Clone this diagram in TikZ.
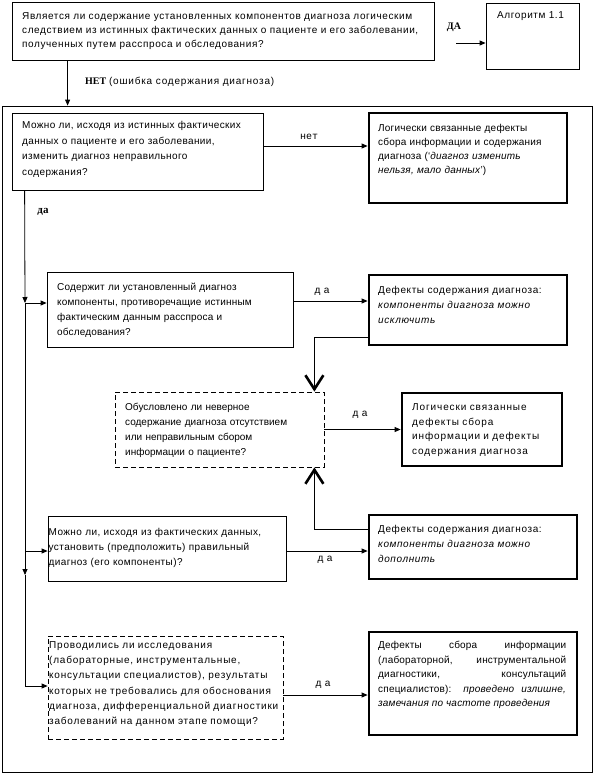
\documentclass[tikz,border=0pt]{standalone}
\usepackage{fontspec}
\setmainfont{Liberation Sans}
\newfontfamily\serifb{Liberation Serif}
\newfontfamily\monof{Liberation Mono}
\newcommand{\lsp}[1]{\addfontfeature{LetterSpace=#1}}
\usetikzlibrary{arrows.meta,calc}
\begin{document}
\begin{tikzpicture}[x=1pt,y=-1pt,
  box/.style={draw, line width=0.8pt, rectangle, inner sep=0pt},
  thickbox/.style={draw, line width=2.8pt, rectangle, inner sep=0pt},
  dbox/.style={draw, line width=0.8pt, rectangle, inner sep=0pt, dash pattern=on 5pt off 3pt},
  txt/.style={anchor=base west, inner sep=0pt, align=left, text width=330pt},
  lbl/.style={inner sep=0pt, font=\fontsize{10}{12}\selectfont},
  arr/.style={line width=0.8pt, -{Triangle[length=6pt,width=5pt]}},
  ln/.style={line width=0.8pt},
  vtip/.style={line width=0.8pt, -{Straight Barb[length=14pt,width=18pt,line width=2.6pt]}},
]
\useasboundingbox (0,0) rectangle (598,784);
% boxes
\node[box, minimum width=422pt, minimum height=58pt] (b1) at (223,31) {};
\node[box, minimum width=93pt, minimum height=66pt] (b2) at (532.5,36) {};
\node[box, minimum width=590pt, minimum height=666pt] (frame) at (297,439) {};
\node[box, minimum width=251pt, minimum height=77pt] (b3) at (137.5,151.5) {};
\node[thickbox, minimum width=198pt, minimum height=90pt] (b4) at (468,158) {};
\node[box, minimum width=246pt, minimum height=75pt] (b5) at (170,309.5) {};
\node[thickbox, minimum width=198pt, minimum height=70pt] (b6) at (468,310) {};
\node[dbox, minimum width=209pt, minimum height=75pt] (b7) at (219.5,429.5) {};
\node[thickbox, minimum width=160pt, minimum height=73pt] (b8) at (482,429.5) {};
\node[box, minimum width=238pt, minimum height=65pt] (b9) at (167,548.5) {};
\node[thickbox, minimum width=208pt, minimum height=64pt] (b10) at (473,547) {};
\node[dbox, minimum width=235pt, minimum height=103pt] (b11) at (165.5,687.5) {};
\node[thickbox, minimum width=208pt, minimum height=103pt] (b12) at (473,683.5) {};
% texts
\node[txt, text width=560pt, font=\fontsize{10}{14.3}\selectfont\lsp{6}] (t1) at (22,19.2) {Является ли содержание установленных компонентов диагноза логическим\\следствием из истинных фактических данных о пациенте и его заболевании,\\полученных путем расспроса и обследования?};
\node[txt, font=\fontsize{10}{14}\selectfont\lsp{6}] (t2) at (497,18.5) {Алгоритм 1.1};
\node[txt, font=\fontsize{10}{15.5}\selectfont\lsp{3.7}] (t3) at (22,128.5) {Можно ли, исходя из истинных фактических\\данных о пациенте и его заболевании,\\изменить диагноз неправильного\\содержания?};
\node[txt, font=\fontsize{10}{14.3}\selectfont\lsp{2}] (t4) at (378,131) {Логически связанные дефекты\\сбора информации и содержания\\диагноза (‘\textit{диагноз изменить}\\\textit{нельзя, мало данных}’)};
\node[txt, font=\fontsize{10}{15}\selectfont\lsp{1.6}] (t5) at (57,290.5) {Содержит ли установленный диагноз\\компоненты, противоречащие истинным\\фактическим данным расспроса и\\обследования?};
\node[txt, font=\fontsize{10}{15}\selectfont\lsp{6}] (t6) at (378,293.5) {Дефекты содержания диагноза:\\\textit{компоненты диагноза можно}\\\textit{исключить}};
\node[txt, font=\fontsize{10}{15}\selectfont] (t7) at (125,410.5) {Обусловлено ли неверное\\содержание диагноза отсутствием\\или неправильным сбором\\информации о пациенте?};
\node[txt, font=\fontsize{10}{14.5}\selectfont\lsp{9}] (t8) at (412,410.5) {Логически связанные\\дефекты сбора\\информации и дефекты\\содержания диагноза};
\node[txt, font=\fontsize{10}{15}\selectfont\lsp{4}] (t9) at (48.5,535.5) {Можно ли, исходя из фактических данных,\\установить (предположить) правильный\\диагноз (его компоненты)?};
\node[txt, font=\fontsize{10}{15}\selectfont\lsp{6}] (t10) at (378,532.5) {Дефекты содержания диагноза:\\\textit{компоненты диагноза можно}\\\textit{дополнить}};
\node[txt, font=\fontsize{10}{15.2}\selectfont\lsp{8}] (t11) at (49,648.5) {Проводились ли исследования\\(лабораторные, инструментальные,\\консультации специалистов), результаты\\которых не требовались для обоснования\\диагноза, дифференциальной диагностики\\заболеваний на данном этапе помощи?};
\node[txt, align=justify, text width=188pt, font=\fontsize{10}{14.6}\selectfont\lsp{2}] (t12) at (378,648.5) {Дефекты сбора информации\linebreak (лабораторной, инструментальной\linebreak диагностики, консультаций\linebreak специалистов): \textit{проведено излишне,}\linebreak \textit{замечания по частоте проведения}};
% labels
\node[lbl] (lDA) at (454,27) {\serifb\bfseries ДА};
\node[lbl, anchor=west] (lNET) at (85,82) {{\serifb\bfseries НЕТ} {\lsp{8}(ошибка содержания диагноза)}};
\node[lbl] (lnet) at (309,137) {\monof нет};
\node[lbl, font=\fontsize{11}{12}\selectfont] (lda0) at (43,212) {\serifb\bfseries да};
\node[lbl] (lda1) at (322,292) {д\,\,а};
\node[lbl] (lda2) at (360,415) {д\,\,а};
\node[lbl] (lda3) at (325,560) {д\,\,а};
\node[lbl] (lda4) at (323,685) {д\,\,а};
% connectors
\draw[arr, shorten <=22pt] ([yshift=-12pt]b1.east) -- ([yshift=-12pt]b1.east -| b2.west);
\draw[arr] ([xshift=56pt]b1.south west) -- ([xshift=56pt]b1.south west |- frame.north);
\draw[arr] ([yshift=5.5pt]b3.east) -- ([yshift=5.5pt]b3.east -| b4.west);
\coordinate (j0) at ([xshift=13pt]b3.south west);
\coordinate (j1) at (25,303);
\coordinate (j2) at (25,551);
\coordinate (j2d) at (25,575);
\coordinate (j3) at (25,686);
\draw[arr] (j0) -- (j1);
\draw[arr] (j1) -- (j1 -| b5.west);
\draw[ln] (j1) -- (j2);
\draw[arr] (j2) -- (j2 -| b9.west);
\draw[arr] (j2) -- (j2d);
\draw[ln] (j2d) -- (j3);
\draw[arr] (j3) -- (j3 -| b11.west);
\draw[arr] ([yshift=8.5pt]b5.east) -- ([yshift=8.5pt]b5.east -| b6.west);
\draw[vtip] ([yshift=-27pt]b6.west) -| ([xshift=-10pt]b7.north east);
\draw[vtip] ([yshift=18pt]b10.west) -| ([xshift=-10pt]b7.south east);
\draw[arr] (b7.east) -- (b7.east -| b8.west);
\draw[arr] ([yshift=-2.5pt]b9.east) -- ([yshift=-2.5pt]b9.east -| b10.west);
\draw[arr] ([yshift=-7.5pt]b11.east) -- ([yshift=-7.5pt]b11.east -| b12.west);
\end{tikzpicture}
\end{document}
